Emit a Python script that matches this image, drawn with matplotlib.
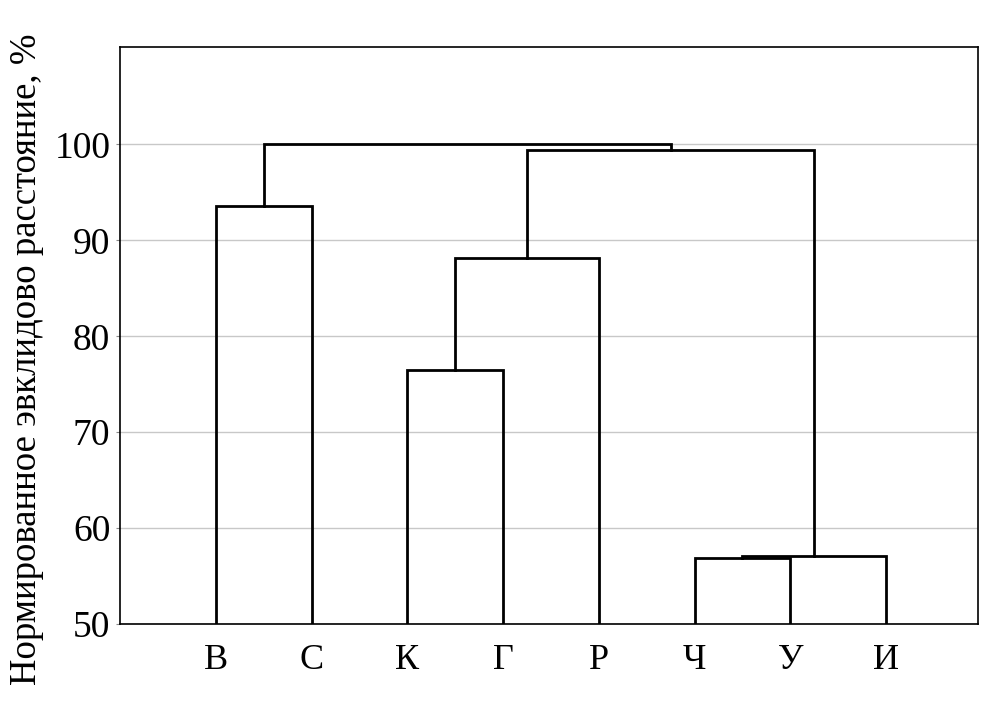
import matplotlib.pyplot as plt

plt.rcParams['font.family'] = ['Liberation Serif', 'DejaVu Serif']

leaves = ['В', 'С', 'К', 'Г', 'Р', 'Ч', 'У', 'И']
# merges like a linkage table: (left cluster, right cluster, height)
# clusters 0..7 are leaves, 8.. are merges in order
merges = [
    (5, 6, 56.9),    # Ч + У
    (8, 7, 57.1),    # (Ч,У) + И
    (2, 3, 76.5),    # К + Г
    (10, 4, 88.2),   # (К,Г) + Р
    (0, 1, 93.6),    # В + С
    (11, 9, 99.4),   # (К,Г,Р) + (Ч,У,И)
    (12, 13, 100.0), # (В,С) + rest
]
yticks = [50, 60, 70, 80, 90, 100]
ybase = 50

fig = plt.figure(figsize=(10, 7.06), dpi=100)
ax = fig.add_axes([0.12, 0.116, 0.858, 0.818])

for y in yticks:
    ax.axhline(y, color='#c8c8c8', lw=1, zorder=0)

xs = [i + 1 for i in range(len(leaves))]
ys = [ybase] * len(leaves)
for a, b, h in merges:
    xa, ya, xb, yb = xs[a], ys[a], xs[b], ys[b]
    ax.plot([xa, xa, xb, xb], [ya, h, h, yb], color='black', lw=2,
            solid_joinstyle='miter')
    xs.append((xa + xb) / 2)
    ys.append(h)

ax.set_xlim(0, 8.96)
ax.set_ylim(50, 110.2)
ax.set_xticks(range(1, len(leaves) + 1))
ax.set_xticklabels(leaves, fontsize=26)
ax.set_yticks(yticks)
ax.tick_params(axis='y', labelsize=27, length=3, color='#888888', pad=4)
ax.tick_params(axis='x', length=0, pad=14)
ax.set_ylabel('Нормированное эвклидово расстояние, %', fontsize=26.5)
ax.yaxis.set_label_coords(-0.088, 0.458)
for s in ax.spines.values():
    s.set_linewidth(1.2)

plt.savefig('out.png', dpi=100)
